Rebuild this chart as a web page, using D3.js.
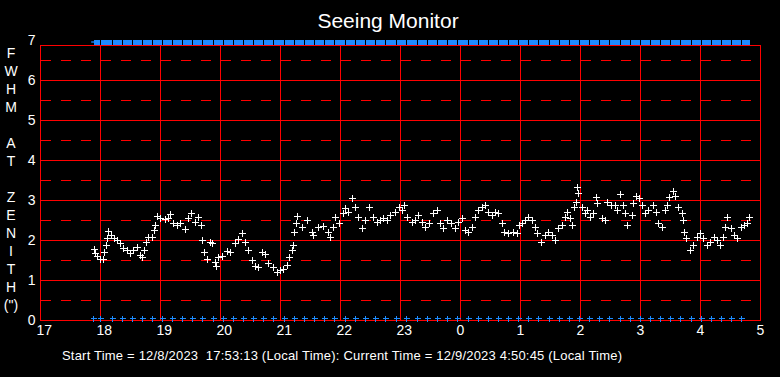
<!DOCTYPE html>
<html>
<head>
<meta charset="utf-8">
<script src="https://cdn.jsdelivr.net/npm/d3@7"></script>
<style>
  html, body { margin: 0; padding: 0; background: #000; }
  svg { display: block; }
  text { font-family: "Liberation Sans", Arial, sans-serif; fill: #fff; }
</style>
</head>
<body>
<svg id="chart" width="780" height="377"></svg>
<script>
// ---- data ----
const title = "Seeing Monitor";
const footer = "Start Time = 12/8/2023  17:53:13 (Local Time): Current Time = 12/9/2023 4:50:45 (Local Time)";
const yAxisLetters = ["F","W","H","M","","A","T","","Z","E","N","I","T","H","(\")"];
const hourTicks = [17,18,19,20,21,22,23,24,25,26,27,28,29];
const yTicks = [0,1,2,3,4,5,6,7];
const startMinute = 53.2;    // minutes after 17:00
const endMinute = 710.75;    // minutes after 17:00

// seeing samples: minutes after 17:00 and FWHM (arcsec)
const sampleMinutes = [54,55,57,60,63,64,66,67,68,71,74,77,80,83,87,90,93,97,100,102,104,106,108,112,114,115,117,120,125,128,130,133,137,140,145,148,151,155,158,161,162,164,167,170,172,175,176,178,182,187,190,195,198,202,205,208,212,215,218,222,225,228,233,237,240,243,247,249,252,253,254,256,257,262,
267,272,273,278,283,288,290,293,295,299,303,305,308,312,315,318,322,325,329,333,337,340,343,347,350,355,359,362,364,367,372,375,378,382,385,389,393,397,400,403,407,411,415,418,422,425,428,432,435,438,442,445,448,452,455,458,462,464,468,473,477,479,
482,485,488,492,495,497,501,505,508,512,515,518,522,525,527,530,532,534,536,537,538,542,545,547,550,553,556,557,562,565,567,571,575,577,580,583,585,587,592,593,596,599,602,605,608,613,616,618,622,625,627,629,633,635,638,642,643,644,646,650,653,657,660,663,667,670,674,677,680,683,685,687,691,694,697,701,704,707,709];
const fwhm = [1.78,1.67,1.6,1.52,1.53,1.71,1.88,2.04,2.23,2.12,2.04,2.0,1.92,1.79,1.75,1.68,1.75,1.83,1.62,1.57,1.75,1.96,2.07,2.08,2.25,2.37,2.6,2.54,2.52,2.54,2.64,2.42,2.37,2.42,2.27,2.54,2.68,2.46,2.58,2.37,2.0,1.71,1.52,1.96,1.92,1.46,1.35,1.57,1.6,1.73,1.71,1.92,2.02,2.17,1.96,1.75,1.5,1.35,1.33,1.71,1.65,1.42,1.32,1.21,1.25,1.27,1.37,1.58,1.75,1.88,2.21,2.43,2.6,2.33,
2.5,2.21,2.12,2.33,2.35,2.21,2.08,2.33,2.58,2.42,2.67,2.79,2.71,3.04,2.83,2.58,2.29,2.5,2.83,2.58,2.46,2.5,2.54,2.5,2.62,2.71,2.83,2.75,2.87,2.58,2.46,2.5,2.62,2.46,2.33,2.42,2.67,2.75,2.42,2.29,2.5,2.42,2.29,2.46,2.54,2.25,2.21,2.33,2.58,2.75,2.83,2.87,2.71,2.62,2.71,2.67,2.42,2.21,2.17,2.21,2.17,2.37,
2.42,2.5,2.58,2.5,2.33,2.17,1.96,2.12,2.21,2.12,2.0,2.29,2.37,2.58,2.71,2.54,2.37,2.83,2.96,3.33,3.17,2.83,2.67,2.75,2.58,2.67,3.08,2.92,2.54,2.5,2.96,2.87,2.87,2.75,3.15,2.87,2.67,2.37,2.62,2.92,3.1,3.04,2.87,2.67,2.75,2.87,2.71,2.42,2.33,2.75,2.87,3.08,3.23,3.1,2.83,2.67,2.5,2.21,2.04,1.75,1.88,2.08,2.17,2.04,1.88,1.96,2.08,2.0,1.88,2.08,2.33,2.58,2.29,2.12,2.04,2.33,2.37,2.42,2.58];

// status markers (minutes after 17:00), drawn at bottom and as a strip at top
const statusMinutes = [53,60,72,82,92,102,112,122,132,142,152,162,173,183,193,203,213,223,233,244,254,264,274,284,294,305,315,325,335,345,356,366,377,387,397,407,417,428,438,448,458,468,478,488,498,509,519,529,539,549,559,569,580,590,600,610,620,630,640,651,661,671,681,691,701];
const statusLevel = 0.05;
const topLevel = 6.95;

// ---- drawing ----
(function () {
const svg = d3.select("#chart");
svg.append("rect").attr("width",780).attr("height",377).attr("fill","#000");

const pLeft = 40, pRight = 760, pTop = 40, pBottom = 320;
const x = d3.scaleLinear().domain([17, 29]).range([pLeft, pRight]);
const y = d3.scaleLinear().domain([0, 7]).range([pBottom, pTop]);
const xm = m => x(17 + m / 60);
const frameTop = y(7) + 5;

const red = "#ff0000";
const blue = "#1e8cff";

const grid = svg.append("g").attr("shape-rendering", "crispEdges");

// dashed half-unit lines
const halfVals = d3.range(0, 7).map(v => v + 0.5);
grid.append("g").selectAll("line").data(halfVals).join("line")
  .attr("x1", pLeft + 1).attr("x2", pRight)
  .attr("y1", d => y(d) + 0.5).attr("y2", d => y(d) + 0.5)
  .attr("stroke", red).attr("stroke-width", 1.6)
  .attr("stroke-dasharray", "10,10");

// solid integer lines
grid.append("g").selectAll("line").data(yTicks.filter(v => v > 0 && v < 7)).join("line")
  .attr("x1", pLeft).attr("x2", pRight)
  .attr("y1", d => y(d) + 0.5).attr("y2", d => y(d) + 0.5)
  .attr("stroke", red).attr("stroke-width", 1.6);

// vertical hour lines
grid.append("g").selectAll("line").data(hourTicks.slice(1, -1)).join("line")
  .attr("x1", d => x(d) + 0.5).attr("x2", d => x(d) + 0.5)
  .attr("y1", frameTop).attr("y2", pBottom)
  .attr("stroke", red).attr("stroke-width", 1.6);

// frame
grid.append("rect")
  .attr("x", pLeft + 0.5).attr("y", frameTop + 0.5)
  .attr("width", pRight - pLeft).attr("height", pBottom - frameTop)
  .attr("fill", "none").attr("stroke", red).attr("stroke-width", 1.6);

// plus path generator
const plus = (cx, cy, r) => `M${cx - r},${cy}H${cx + r}M${cx},${cy - r}V${cy + r}`;

// top status strip
const blocks = statusMinutes.map((m, i) => [m, i + 1 < statusMinutes.length ? statusMinutes[i + 1] : endMinute]);
svg.append("g").attr("shape-rendering", "crispEdges").selectAll("rect").data(blocks).join("rect")
  .attr("x", d => xm(d[0]) + 1)
  .attr("width", d => Math.max(1, xm(d[1]) - xm(d[0]) - 1.3))
  .attr("y", y(topLevel) - 2.5).attr("height", 5)
  .attr("fill", blue);
svg.append("line")
  .attr("x1", xm(startMinute) - 2).attr("x2", xm(startMinute) + 1)
  .attr("y1", y(topLevel)).attr("y2", y(topLevel))
  .attr("stroke", blue).attr("stroke-width", 1.3);

// bottom status markers
svg.append("g").attr("shape-rendering", "crispEdges").selectAll("path").data(statusMinutes).join("path")
  .attr("d", d => plus(Math.round(xm(d)) + 0.5, Math.round(y(statusLevel)) + 0.5, 3))
  .attr("stroke", blue).attr("stroke-width", 1.6).attr("fill", "none");

// seeing data
svg.append("g").attr("shape-rendering", "crispEdges").selectAll("path").data(sampleMinutes.map((m, i) => [m, fwhm[i]])).join("path")
  .attr("d", d => plus(Math.round(xm(d[0])) + 0.5, Math.round(y(d[1])) + 0.5, 3.5))
  .attr("stroke", "#fff").attr("stroke-width", 1.6).attr("fill", "none");

// x tick labels
svg.append("g").selectAll("text").data(hourTicks).join("text")
  .attr("x", d => x(d) - 3.5).attr("y", pBottom + 15)
  .attr("font-size", 14)
  .text(d => String(d % 24));

// y tick labels
svg.append("g").selectAll("text").data(yTicks).join("text")
  .attr("x", 35.5).attr("y", d => y(d) + 5)
  .attr("text-anchor", "end").attr("font-size", 14)
  .text(d => d);

// vertical axis title letters
svg.append("g").selectAll("text").data(yAxisLetters).join("text")
  .attr("x", 11).attr("y", (d, i) => 58 + i * 18)
  .attr("text-anchor", "middle").attr("font-size", 14)
  .text(d => d);

// title
svg.append("text").attr("x", 388).attr("y", 28)
  .attr("text-anchor", "middle").attr("font-size", 21)
  .text(title);

// footer
svg.append("text").attr("x", 62).attr("y", 360)
  .attr("font-size", 13).style("white-space", "pre")
  .attr("textLength", 560).attr("lengthAdjust", "spacing")
  .text(footer);
})();
</script>
</body>
</html>
